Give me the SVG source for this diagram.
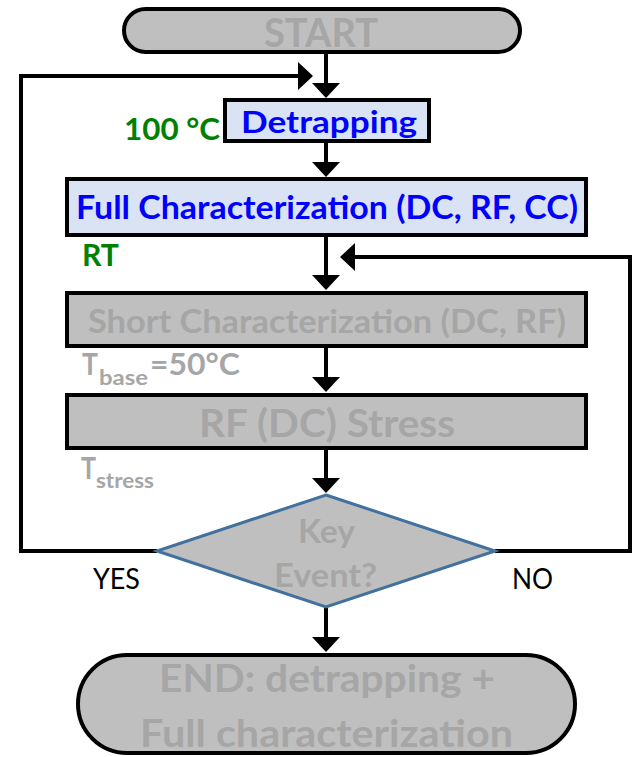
<svg xmlns="http://www.w3.org/2000/svg" width="637" height="757" viewBox="0 0 637 757">
  <style>
    .box { stroke: #000; stroke-width: 4; }
    .gray { fill: #bfbfbf; }
    .blue { fill: #dae3f3; }
    .t { font-family: Lato, "Liberation Sans", sans-serif; font-weight: bold; }
    .tg { fill: #a6a6a6; }
    .tb { fill: #0000ff; }
    .tgr { fill: #008000; }
    .lab { font-family: Lato, "Liberation Sans", sans-serif; fill: #000; font-size: 28px; }
    .conn { fill: none; stroke: #000; stroke-width: 4; }
  </style>
  <defs>
    <marker id="arrow" markerUnits="userSpaceOnUse" viewBox="0 0 15 28" markerWidth="15" markerHeight="28" refX="0" refY="14" orient="auto">
      <path d="M0,0 L15,14 L0,28 z" fill="#000"/>
    </marker>
  </defs>

  <rect width="637" height="757" fill="#fff"/>

  <!-- connectors -->
  <g id="connectors" class="conn">
    <line x1="326" y1="54" x2="326" y2="83" marker-end="url(#arrow)"/>
    <line x1="326" y1="143" x2="326" y2="162" marker-end="url(#arrow)"/>
    <line x1="326" y1="237" x2="326" y2="275" marker-end="url(#arrow)"/>
    <line x1="326" y1="348" x2="326" y2="377" marker-end="url(#arrow)"/>
    <line x1="326" y1="450" x2="326" y2="478" marker-end="url(#arrow)"/>
    <line x1="326" y1="607" x2="326" y2="637" marker-end="url(#arrow)"/>
    <!-- YES loop back to detrapping -->
    <path d="M157,551 H21 V76 H298" marker-end="url(#arrow)"/>
    <!-- NO loop back to short characterization -->
    <path d="M495,551 H630 V257 H355" marker-end="url(#arrow)"/>
  </g>

  <g id="start">
    <rect class="box gray" x="124" y="9" width="396" height="43" rx="21.5" ry="21.5"/>
    <text class="t tg" x="264" y="47" font-size="40" textLength="114" lengthAdjust="spacingAndGlyphs">START</text>
  </g>

  <g id="detrapping">
    <rect class="box blue" x="225" y="100" width="204" height="41"/>
    <text class="t tb" x="241" y="133" font-size="31" textLength="176" lengthAdjust="spacingAndGlyphs">Detrapping</text>
    <text class="t tgr" x="124" y="140" font-size="31" textLength="96" lengthAdjust="spacingAndGlyphs">100 °C</text>
  </g>

  <g id="full-characterization">
    <rect class="box blue" x="67" y="179" width="519" height="56"/>
    <text class="t tb" x="76" y="219" font-size="33" textLength="502" lengthAdjust="spacingAndGlyphs">Full Characterization (DC, RF, CC)</text>
    <text class="t tgr" x="82" y="266" font-size="30" textLength="37" lengthAdjust="spacingAndGlyphs">RT</text>
  </g>

  <g id="short-characterization">
    <rect class="box gray" x="67" y="293" width="519" height="53"/>
    <text class="t tg" x="88" y="333" font-size="33" textLength="478" lengthAdjust="spacingAndGlyphs">Short Characterization (DC, RF)</text>
    <text class="t tg" x="82" y="375" font-size="30" textLength="16" lengthAdjust="spacingAndGlyphs">T</text>
    <text class="t tg" x="99" y="385" font-size="21" textLength="49" lengthAdjust="spacingAndGlyphs">base</text>
    <text class="t tg" x="150" y="375" font-size="30" textLength="90" lengthAdjust="spacingAndGlyphs">=50°C</text>
  </g>

  <g id="stress">
    <rect class="box gray" x="67" y="395" width="519" height="53"/>
    <text class="t tg" x="199" y="437" font-size="38" textLength="256" lengthAdjust="spacingAndGlyphs">RF (DC) Stress</text>
    <text class="t tg" x="81" y="479" font-size="30" textLength="15" lengthAdjust="spacingAndGlyphs">T</text>
    <text class="t tg" x="96" y="488" font-size="21" textLength="58" lengthAdjust="spacingAndGlyphs">stress</text>
  </g>

  <g id="key-event">
    <polygon points="326,495 495,551 326,607 157,551" fill="#bfbfbf" stroke="#41719c" stroke-width="3"/>
    <text class="t tg" x="298" y="543" font-size="32" textLength="57" lengthAdjust="spacingAndGlyphs">Key</text>
    <text class="t tg" x="274" y="587" font-size="32" textLength="103" lengthAdjust="spacingAndGlyphs">Event?</text>
    <text class="lab" x="93" y="589" textLength="47" lengthAdjust="spacingAndGlyphs">YES</text>
    <text class="lab" x="512" y="589" textLength="41" lengthAdjust="spacingAndGlyphs">NO</text>
  </g>

  <g id="end">
    <rect class="box gray" x="78" y="655" width="497" height="98" rx="49" ry="49"/>
    <text class="t tg" x="159" y="692" font-size="38" textLength="336" lengthAdjust="spacingAndGlyphs">END: detrapping +</text>
    <text class="t tg" x="140" y="747" font-size="38" textLength="373" lengthAdjust="spacingAndGlyphs">Full characterization</text>
  </g>
</svg>
